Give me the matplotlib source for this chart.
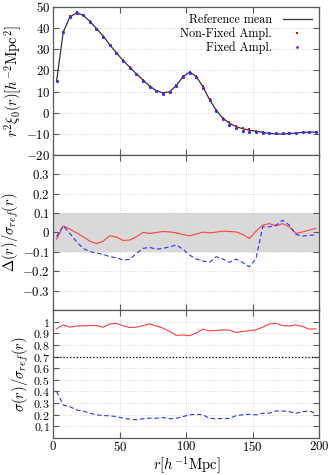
import numpy as np
import matplotlib
matplotlib.use('Agg')
import matplotlib.pyplot as plt
from matplotlib.ticker import MultipleLocator

from matplotlib import rcParams
rcParams['font.family'] = 'serif'
rcParams['font.serif'] = ['cmr10']
rcParams['mathtext.fontset'] = 'cm'
rcParams['axes.formatter.use_mathtext'] = True

r = [2.5 + 5 * i for i in range(40)]

xi_ref = [15.1, 38.2, 45.3, 47.2, 46.1, 43.2, 39.8, 36.2, 32.1, 28.3,
          24.7, 21.5, 18.4, 15.4, 12.6, 10.4, 9.4, 9.9, 12.9, 17.0,
          19.2, 17.2, 12.3, 6.2, 1.2, -2.6, -5.0, -6.6, -7.6, -8.3,
          -8.8, -9.3, -9.8, -10.0, -10.1, -9.9, -9.6, -9.3, -9.2, -9.2]
xi_nonfixed = [15.2, 38.4, 45.6, 47.4, 46.3, 43.2, 39.8, 36.1, 32.1, 28.4,
               24.8, 21.6, 18.5, 15.5, 12.7, 10.5, 9.3, 10.0, 13.1, 17.3,
               19.4, 17.5, 12.6, 6.6, 1.4, -2.3, -4.6, -6.4, -7.3, -7.8,
               -8.5, -9.0, -9.6, -9.9, -10.0, -9.8, -9.4, -9.0, -9.0, -8.9]
xi_fixed = [15.1, 38.2, 45.3, 47.2, 46.1, 43.1, 39.6, 35.9, 31.8, 28.0,
            24.4, 21.2, 18.1, 15.1, 12.3, 10.1, 9.0, 9.6, 12.7, 16.9,
            19.0, 16.9, 11.8, 5.8, 0.8, -3.1, -5.6, -7.4, -8.5, -9.1,
            -9.2, -9.6, -9.8, -9.8, -9.8, -9.6, -9.4, -9.1, -9.1, -9.2]

delta_nonfixed = [-0.034, 0.034, 0.017, -0.002, -0.022, -0.045, -0.057, -0.045, -0.017, -0.024,
                  -0.041, -0.039, -0.022, 0.0, -0.005, 0.0, 0.005, 0.003, -0.002, -0.010,
                  -0.017, -0.009, 0.002, -0.002, 0.002, 0.007, 0.005, 0.003, -0.010, -0.031,
                  0.007, 0.038, 0.046, 0.034, 0.046, 0.029, -0.005, 0.003, 0.012, 0.021]
delta_fixed = [-0.022, 0.034, -0.005, -0.048, -0.082, -0.099, -0.106, -0.113, -0.125, -0.130,
               -0.142, -0.139, -0.108, -0.082, -0.077, -0.086, -0.082, -0.074, -0.065, -0.086,
               -0.117, -0.137, -0.147, -0.154, -0.125, -0.137, -0.154, -0.137, -0.156, -0.177,
               -0.134, 0.029, 0.029, 0.038, 0.063, 0.038, -0.010, -0.019, -0.014, -0.014]

sig_nonfixed = [0.94, 0.972, 0.952, 0.963, 0.963, 0.966, 0.966, 0.952, 0.98, 0.986,
                0.963, 0.949, 0.952, 0.966, 0.98, 0.963, 0.944, 0.916, 0.882, 0.885,
                0.879, 0.902, 0.935, 0.921, 0.924, 0.93, 0.927, 0.907, 0.916, 0.921,
                0.93, 0.952, 0.98, 0.986, 0.966, 0.963, 0.972, 0.958, 0.935, 0.938]
sig_fixed = [0.40, 0.283, 0.269, 0.241, 0.232, 0.213, 0.199, 0.193, 0.19, 0.184,
             0.170, 0.162, 0.156, 0.165, 0.170, 0.170, 0.176, 0.165, 0.170, 0.184,
             0.199, 0.204, 0.199, 0.170, 0.165, 0.168, 0.167, 0.193, 0.199, 0.204,
             0.199, 0.213, 0.213, 0.232, 0.232, 0.226, 0.213, 0.226, 0.232, 0.21]
sig_level = 0.7

red = '#ff4040'
blue = '#2e2eff'
frame = '0.35'

fig = plt.figure(figsize=(3.32, 4.75), dpi=100)
left, width = 0.1605, 0.801
ax1 = fig.add_axes([left, 0.6737, width, 0.3116])
ax2 = fig.add_axes([left, 0.3474, width, 0.3263])
ax3 = fig.add_axes([left, 0.0779, width, 0.2695])

for ax in (ax1, ax2, ax3):
    ax.set_xlim(0, 200)
    ax.xaxis.set_major_locator(MultipleLocator(50))
    ax.tick_params(direction='in', top=True, right=True, labelsize=9.2,
                   length=4, width=0.8, color=frame, pad=2.5)
    ax.grid(True, linestyle=':', color='0.82', linewidth=0.6)
    for s in ax.spines.values():
        s.set_color(frame)
        s.set_linewidth(0.9)

# top panel
ax1.plot(r, xi_ref, '-', color='0.2', lw=0.9, label='Reference mean')
ax1.plot(r, xi_nonfixed, 's', color='red', ms=2.1, mew=0, label='Non-Fixed Ampl.')
ax1.plot(r, xi_fixed, 'o', color=blue, ms=2.3, mew=0, label='Fixed Ampl.')
ax1.set_ylim(-20, 50)
ax1.yaxis.set_major_locator(MultipleLocator(10))
ax1.tick_params(labelbottom=False)
ax1.set_ylabel(r'$r^2\xi_0(r)[h^{-2}\mathrm{Mpc}^2]$', fontsize=10.5, labelpad=1)
leg = ax1.legend(loc='upper right', frameon=False, markerfirst=False, fontsize=8.7,
                 handlelength=2.4, labelspacing=0.12, borderaxespad=0.3,
                 borderpad=0.3, handletextpad=0.9, markerscale=0.85)
for t in leg.get_texts():
    t.set_ha('right')

# middle panel
ax2.axhspan(-0.1, 0.1, color='0.85', lw=0)
ax2.plot(r, delta_nonfixed, '-', color=red, lw=0.8)
ax2.plot(r, delta_fixed, '--', color=blue, lw=0.8, dashes=(4, 2.5))
ax2.set_ylim(-0.4, 0.4)
ax2.set_yticks([-0.3, -0.2, -0.1, 0, 0.1, 0.2, 0.3])
ax2.set_yticklabels(['$-0.3$', '$-0.2$', '$-0.1$', '$0$', '$0.1$', '$0.2$', '$0.3$'])
ax2.tick_params(labelbottom=False)
ax2.set_ylabel(r'$\Delta(r)/\sigma_{ref}(r)$', fontsize=10.5, labelpad=1)

# bottom panel
ax3.plot(r, sig_nonfixed, '-', color=red, lw=0.8)
ax3.plot(r, sig_fixed, '--', color=blue, lw=0.8, dashes=(4, 2.5))
ax3.axhline(sig_level, color='black', lw=0.9, ls=':')
ax3.set_ylim(0, 1.1)
ax3.set_yticks([0.1, 0.2, 0.3, 0.4, 0.5, 0.6, 0.7, 0.8, 0.9, 1.0])
ax3.set_yticklabels(['$0.1$', '$0.2$', '$0.3$', '$0.4$', '$0.5$', '$0.6$',
                     '$0.7$', '$0.8$', '$0.9$', '$1$'])
ax3.tick_params(axis='y', labelsize=8.6)
ax3.set_ylabel(r'$\sigma(r)/\sigma_{ref}(r)$', fontsize=10.5, labelpad=1)
ax3.tick_params(axis='x', pad=1.5)
ax3.set_xlabel(r'$r[h^{-1}\mathrm{Mpc}]$', fontsize=10.5, labelpad=0)

fig.align_ylabels([ax1, ax2, ax3])
fig.savefig('out.png', dpi=100)
